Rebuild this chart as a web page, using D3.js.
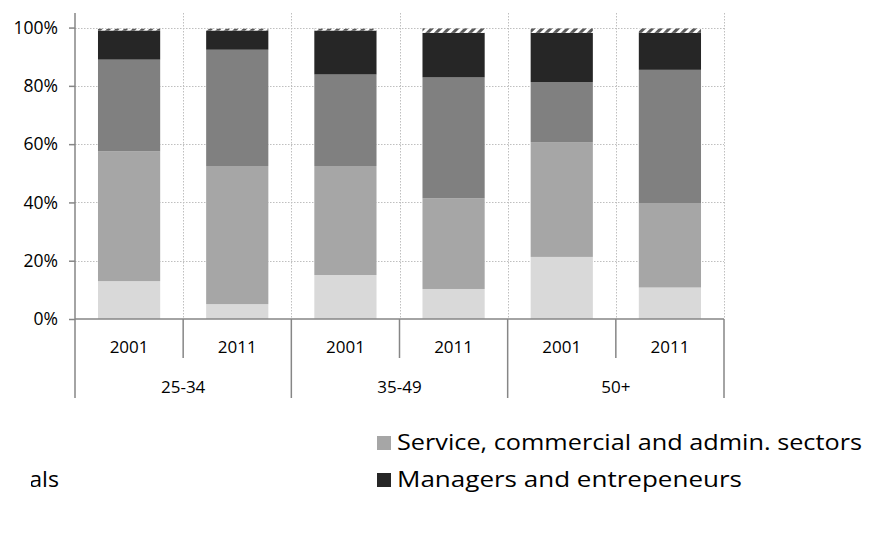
<!DOCTYPE html>
<html>
<head>
<meta charset="utf-8">
<script src="https://cdn.jsdelivr.net/npm/d3@7"></script>
<style>
  html, body { margin: 0; padding: 0; background: #fff; overflow: hidden; }
  svg { display: block; font-family: "Open Sans", "DejaVu Sans", sans-serif; }
</style>
</head>
<body>
<svg id="chart" width="878" height="559"></svg>
<script>
// Age groups and census years (two-level category axis)
const ageGroups = ["25-34", "35-49", "50+"];
const years = ["2001", "2011"];

// Share of employed (%) by occupational class, one value per age group × year
const workers      = [13.0,  5.1, 15.1, 10.3, 21.3, 10.8];
const serviceAdmin = [44.5, 47.4, 37.4, 31.1, 39.4, 29.0];
const professionals= [31.5, 39.9, 31.4, 41.5, 20.6, 45.7];
const managers     = [10.0,  6.6, 15.1, 15.3, 16.9, 12.7];
const otherUnknown = [ 0.6,  0.6,  0.6,  1.5,  1.5,  1.5];

const yTicks = [0, 20, 40, 60, 80, 100];

const seriesKeys = ["workers", "serviceAdmin", "professionals", "managers", "other"];
const seriesColors = {
  workers: "#d9d9d9",
  serviceAdmin: "#a6a6a6",
  professionals: "#808080",
  managers: "#262626",
  other: "url(#hatch)"
};

// Table for d3.stack
const cats = [];
ageGroups.forEach(g => years.forEach(y => cats.push({ group: g, year: y, key: g + "|" + y })));
const table = cats.map((c, i) => ({
  key: c.key,
  workers: workers[i],
  serviceAdmin: serviceAdmin[i],
  professionals: professionals[i],
  managers: managers[i],
  other: otherUnknown[i]
}));

const svg = d3.select("#chart");
const plotL = 75, plotR = 724, plotT = 13, plotB = 319;

const defs = svg.append("defs");
// Diagonal hatch for the unknown category
const pat = defs.append("pattern")
  .attr("id", "hatch").attr("patternUnits", "userSpaceOnUse")
  .attr("width", 6).attr("height", 6)
  .attr("patternTransform", "rotate(45)");
pat.append("rect").attr("width", 6).attr("height", 6).attr("fill", "#ffffff");
pat.append("rect").attr("width", 3).attr("height", 6).attr("fill", "#595959");
// Visible window for the legend (its left column is cut)
defs.append("clipPath").attr("id", "legendClip")
  .append("rect").attr("x", 31).attr("y", 400).attr("width", 847).attr("height", 159);

const x = d3.scaleBand().domain(cats.map(c => c.key)).range([plotL, plotR]).paddingInner(0).paddingOuter(0);
const xGroup = d3.scaleBand().domain(ageGroups).range([plotL, plotR]).padding(0);
const barPad = 0.425;
const y = d3.scaleLinear().domain([0, 105]).range([plotB, plotT]);

// Gridlines (dotted)
const grid = svg.append("g").attr("stroke", "#bfbfbf").attr("stroke-width", 1).attr("stroke-dasharray", "1.5,1.5");
grid.selectAll("line.h").data(yTicks.filter(t => t > 0)).join("line")
  .attr("x1", plotL).attr("x2", plotR)
  .attr("y1", d => Math.round(y(d)) + 0.5).attr("y2", d => Math.round(y(d)) + 0.5);
const bounds = cats.map(c => x(c.key)).slice(1).concat([plotR]);
grid.selectAll("line.v").data(bounds).join("line")
  .attr("x1", d => Math.round(d) + 0.5).attr("x2", d => Math.round(d) + 0.5)
  .attr("y1", plotT).attr("y2", plotB);

// Stacked bars
const stack = d3.stack().keys(seriesKeys);
const layers = stack(table);
const bw = x.bandwidth() * (1 - barPad);
svg.append("g").selectAll("g").data(layers).join("g")
  .attr("fill", d => seriesColors[d.key])
  .selectAll("rect").data(d => d).join("rect")
  .attr("x", d => x(d.data.key) + (x.bandwidth() - bw) / 2)
  .attr("width", bw)
  .attr("y", d => y(d[1]))
  .attr("height", d => Math.max(0, y(d[0]) - y(d[1])));

// Y axis
const yAxis = d3.axisLeft(y).tickValues(yTicks).tickFormat(d => d + "%").tickSize(6).tickPadding(11);
const gy = svg.append("g").attr("transform", `translate(${plotL},0)`).call(yAxis);
gy.select(".domain").attr("d", `M0,${plotT}V${plotB}`).attr("stroke", "#868686").attr("stroke-width", 1.5);
gy.selectAll(".tick line").attr("stroke", "#868686").attr("stroke-width", 1.5);
gy.selectAll(".tick text").attr("font-size", 17.5).attr("fill", "#000")
  .attr("font-family", "'Open Sans', sans-serif");

// Two-level category axis
const ax = svg.append("g").attr("stroke", "#868686").attr("stroke-width", 1.5);
ax.append("line").attr("x1", plotL).attr("x2", plotR).attr("y1", plotB).attr("y2", plotB);
// year separators inside groups
ageGroups.forEach(g => {
  const mid = xGroup(g) + xGroup.bandwidth() / 2;
  ax.append("line").attr("x1", mid).attr("x2", mid).attr("y1", plotB).attr("y2", 358);
});
// group separators
xGroup.domain().map(g => xGroup(g)).concat([plotR]).forEach(v => {
  ax.append("line").attr("x1", v).attr("x2", v).attr("y1", plotB).attr("y2", 398);
});

svg.append("g").selectAll("text").data(cats).join("text")
  .attr("x", d => x(d.key) + x.bandwidth() / 2)
  .attr("y", 347).attr("dy", "0.35em")
  .attr("text-anchor", "middle").attr("font-size", 17).attr("fill", "#000")
  .text(d => d.year);
svg.append("g").selectAll("text").data(ageGroups).join("text")
  .attr("x", d => xGroup(d) + xGroup.bandwidth() / 2)
  .attr("y", 387).attr("dy", "0.35em")
  .attr("text-anchor", "middle").attr("font-size", 17).attr("fill", "#000")
  .text(d => d);

// Legend (two columns; the left column is clipped)
const legendItems = [
  { key: "serviceAdmin", label: "Service, commercial and admin. sectors", x: 377, y: 443, len: 465 },
  { key: "managers", label: "Managers and entrepeneurs", x: 377, y: 480, len: 345 },
  { key: "professionals", label: "Professionals", x: -105, y: 480, len: 144 }
];
const lg = svg.append("g").attr("clip-path", "url(#legendClip)")
  .selectAll("g").data(legendItems).join("g")
  .attr("transform", d => `translate(${d.x},${d.y})`);
lg.append("rect").attr("x", 0).attr("y", -7).attr("width", 14).attr("height", 14)
  .attr("fill", d => seriesColors[d.key]);
lg.append("text").attr("x", 20).attr("dy", "0.35em").attr("font-size", 21).attr("fill", "#000")
  .attr("textLength", d => d.len).attr("lengthAdjust", "spacingAndGlyphs")
  .text(d => d.label);
</script>
</body>
</html>
